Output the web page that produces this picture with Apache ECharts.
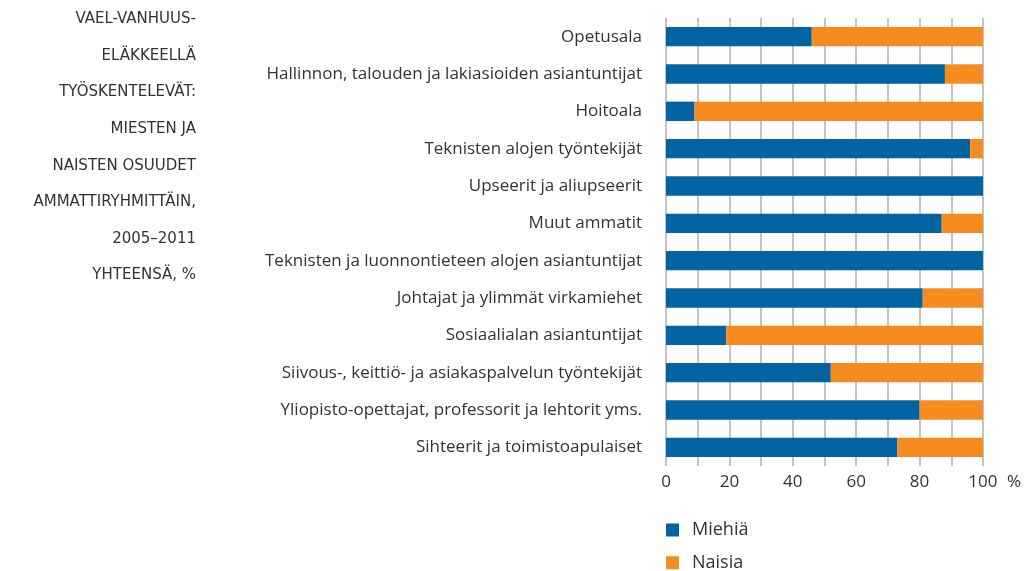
<!DOCTYPE html>
<html>
<head>
<meta charset="utf-8">
<script src="https://cdn.jsdelivr.net/npm/echarts@6/dist/echarts.min.js"></script>
<style>html,body{margin:0;padding:0;background:#fff;}#c{width:1024px;height:571px;}</style>
</head>
<body>
<div id="c"></div>
<script>
const titleLines = ['VAEL-VANHUUS-', 'ELÄKKEELLÄ', 'TYÖSKENTELEVÄT:', 'MIESTEN JA', 'NAISTEN OSUUDET', 'AMMATTIRYHMITTÄIN,', '2005–2011', 'YHTEENSÄ, %'];
const categories = [
  'Opetusala',
  'Hallinnon, talouden ja lakiasioiden asiantuntijat',
  'Hoitoala',
  'Teknisten alojen työntekijät',
  'Upseerit ja aliupseerit',
  'Muut ammatit',
  'Teknisten ja luonnontieteen alojen asiantuntijat',
  'Johtajat ja ylimmät virkamiehet',
  'Sosiaalialan asiantuntijat',
  'Siivous-, keittiö- ja asiakaspalvelun työntekijät',
  'Yliopisto-opettajat, professorit ja lehtorit yms.',
  'Sihteerit ja toimistoapulaiset'
];
const miehia = [46, 88, 9, 96, 100, 87, 100, 81, 19, 52, 80, 73];
const naisia = [54, 12, 91, 4, 0, 13, 0, 19, 81, 48, 20, 27];
const seriesNames = ['Miehiä', 'Naisia'];
const xTicks = [0, 20, 40, 60, 80, 100];
const unitLabel = '%';

const FONT = '"Open Sans", "Noto Sans", sans-serif';
const TFONT = '"DejaVu Sans", "Open Sans", sans-serif';
const chart = echarts.init(document.getElementById('c'), null, {renderer: 'canvas'});
chart.setOption({
  animation: false,
  backgroundColor: '#fff',
  graphic: [{
    type: 'text',
    style: {
      x: 196, y: 1,
      text: titleLines.join('\n'),
      align: 'right',
      verticalAlign: 'top',
      fontFamily: TFONT,
      fontSize: 15,
      fill: '#333',
      lineHeight: 36.6
    }
  }],
  legend: {
    orient: 'vertical',
    left: 666,
    top: 520,
    height: 80,
    padding: 0,
    itemWidth: 13,
    itemHeight: 13,
    itemGap: 12.7,
    icon: 'rect',
    data: seriesNames,
    textStyle: {fontFamily: FONT, fontSize: 18, color: '#333', lineHeight: 20, padding: [0, 0, 0, 8]}
  },
  grid: {left: 666, right: 1024 - 983.5, top: 18, bottom: 105, containLabel: false},
  xAxis: {
    type: 'value',
    min: 0,
    max: 100,
    interval: 10,
    name: unitLabel,
    nameLocation: 'end',
    nameGap: 24,
    nameTextStyle: {fontFamily: FONT, fontSize: 17, color: '#333', verticalAlign: 'top', padding: [8, 0, 0, 0]},
    axisLine: {show: false},
    axisTick: {show: false},
    splitLine: {show: true, lineStyle: {color: '#b0b0b0', width: 1.5}},
    axisLabel: {
      fontFamily: FONT, fontSize: 17, color: '#333', margin: 8,
      showMaxLabel: true, showMinLabel: true,
      formatter: v => xTicks.indexOf(v) >= 0 ? String(v) : ''
    }
  },
  yAxis: {
    type: 'category',
    data: categories,
    inverse: true,
    axisLine: {show: false},
    axisTick: {show: false},
    splitLine: {show: false},
    axisLabel: {fontFamily: FONT, fontSize: 17, color: '#333', margin: 24}
  },
  series: [
    {name: seriesNames[0], type: 'bar', stack: 'a', data: miehia, barWidth: '52%', itemStyle: {color: '#0064a3'}},
    {name: seriesNames[1], type: 'bar', stack: 'a', data: naisia, barWidth: '52%', itemStyle: {color: '#f68b1f'}}
  ]
});
</script>
</body>
</html>
